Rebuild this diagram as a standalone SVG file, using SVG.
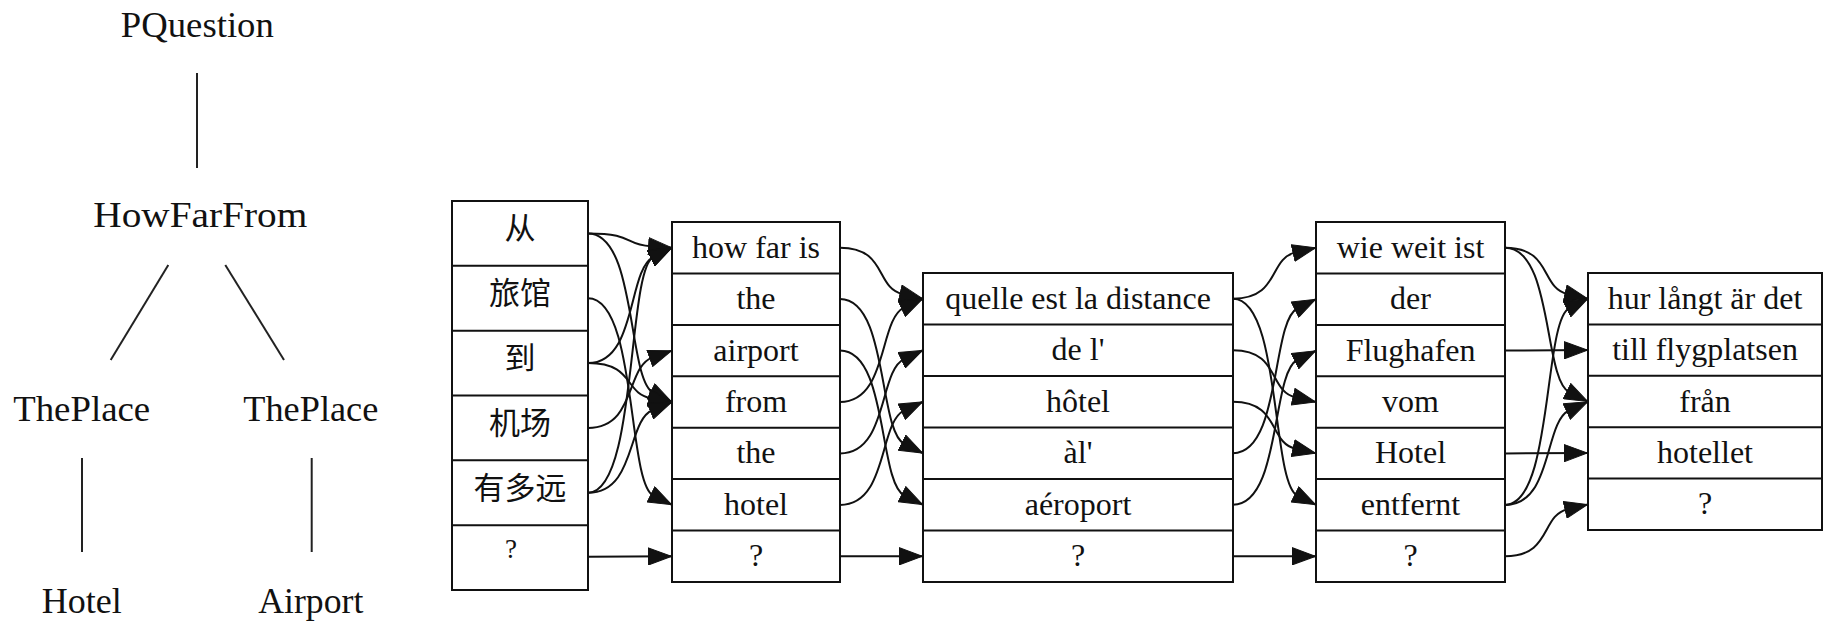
<svg xmlns="http://www.w3.org/2000/svg" width="1825" height="621" viewBox="0 0 1825 621">
  <style>
    .box { fill: #fff; stroke: #111; stroke-width: 2; }
    .div { stroke: #111; stroke-width: 2; }
    .lbl { font-family: "Liberation Serif", "Times New Roman", serif; font-size: 32px; text-anchor: middle; fill: #111; }
    .cjk { font-family: "Liberation Serif", "Noto Sans CJK SC", serif; font-size: 31px; }
    .tree { font-size: 36px; }
    .edge { fill: none; stroke: #111; stroke-width: 2; marker-end: url(#ah); }
    .branch { stroke: #222; stroke-width: 2; }
  </style>
  <defs>
    <marker id="ah" markerUnits="userSpaceOnUse" viewBox="0 0 24 18" markerWidth="24" markerHeight="18" refX="24" refY="9" orient="auto">
      <path d="M0.5,0.5 L23.5,9 L0.5,17.5 Z" fill="#111" stroke="#111" stroke-width="1"/>
    </marker>
  </defs>
  <rect width="1825" height="621" fill="#fff"/>

  <!-- abstract syntax tree -->
  <g id="t-pquestion"><text class="lbl tree" x="197.3" y="36.7" textLength="153" lengthAdjust="spacingAndGlyphs">PQuestion</text></g>
  <g id="t-howfarfrom"><text class="lbl tree" x="200.3" y="227.3" textLength="214" lengthAdjust="spacingAndGlyphs">HowFarFrom</text></g>
  <g id="t-theplace1"><text class="lbl tree" x="81.7" y="421" textLength="137" lengthAdjust="spacingAndGlyphs">ThePlace</text></g>
  <g id="t-theplace2"><text class="lbl tree" x="310.8" y="421" textLength="135" lengthAdjust="spacingAndGlyphs">ThePlace</text></g>
  <g id="t-hotel"><text class="lbl tree" x="81.7" y="613.3" textLength="80" lengthAdjust="spacingAndGlyphs">Hotel</text></g>
  <g id="t-airport"><text class="lbl tree" x="310.8" y="613.3" textLength="105" lengthAdjust="spacingAndGlyphs">Airport</text></g>

  <!-- word tables -->
  <g id="zh">
    <rect class="box" x="452" y="201" width="136" height="389"/>
    <path class="div" d="M452,265.8H588M452,330.7H588M452,395.5H588M452,460.3H588M452,525.2H588"/>
    <text class="lbl cjk" x="520" y="239.4">从</text>
    <text class="lbl cjk" x="520" y="304.3">旅馆</text>
    <text class="lbl cjk" x="520" y="369.1">到</text>
    <text class="lbl cjk" x="520" y="433.9">机场</text>
    <text class="lbl cjk" x="520" y="498.8">有多远</text>
    <text class="lbl cjk" x="511" y="557.5" style="font-size:27px">?</text>
  </g>

  <g id="en">
    <rect class="box" x="672" y="222" width="168" height="360"/>
    <path class="div" d="M672,273.4H840M672,324.9H840M672,376.3H840M672,427.7H840M672,479.1H840M672,530.6H840"/>
    <text class="lbl" x="756" y="257.7">how far is</text>
    <text class="lbl" x="756" y="309.1">the</text>
    <text class="lbl" x="756" y="360.6">airport</text>
    <text class="lbl" x="756" y="412">from</text>
    <text class="lbl" x="756" y="463.4">the</text>
    <text class="lbl" x="756" y="514.9">hotel</text>
    <text class="lbl" x="756" y="566.3">?</text>
  </g>

  <g id="fr">
    <rect class="box" x="923" y="273" width="310" height="309"/>
    <path class="div" d="M923,324.5H1233M923,376H1233M923,427.5H1233M923,479H1233M923,530.5H1233"/>
    <text class="lbl" x="1078" y="308.75">quelle est la distance</text>
    <text class="lbl" x="1078" y="360.25">de l'</text>
    <text class="lbl" x="1078" y="411.75">hôtel</text>
    <text class="lbl" x="1078" y="463.25">àl'</text>
    <text class="lbl" x="1078" y="514.75">aéroport</text>
    <text class="lbl" x="1078" y="566.25">?</text>
  </g>

  <g id="de">
    <rect class="box" x="1316" y="222" width="189" height="360"/>
    <path class="div" d="M1316,273.4H1505M1316,324.9H1505M1316,376.3H1505M1316,427.7H1505M1316,479.1H1505M1316,530.6H1505"/>
    <text class="lbl" x="1410.5" y="257.7">wie weit ist</text>
    <text class="lbl" x="1410.5" y="309.1">der</text>
    <text class="lbl" x="1410.5" y="360.6">Flughafen</text>
    <text class="lbl" x="1410.5" y="412">vom</text>
    <text class="lbl" x="1410.5" y="463.4">Hotel</text>
    <text class="lbl" x="1410.5" y="514.9">entfernt</text>
    <text class="lbl" x="1410.5" y="566.3">?</text>
  </g>

  <g id="sv">
    <rect class="box" x="1588" y="273" width="234" height="257"/>
    <path class="div" d="M1588,324.4H1822M1588,375.8H1822M1588,427.2H1822M1588,478.6H1822"/>
    <text class="lbl" x="1705" y="308.7">hur långt är det</text>
    <text class="lbl" x="1705" y="360.1">till flygplatsen</text>
    <text class="lbl" x="1705" y="411.5">från</text>
    <text class="lbl" x="1705" y="462.9">hotellet</text>
    <text class="lbl" x="1705" y="514.3">?</text>
  </g>

  <g id="connectors">
    <!-- tree branches -->
    <line class="branch" x1="197" y1="73" x2="197" y2="168"/>
    <line class="branch" x1="168.3" y1="265" x2="110.7" y2="360"/>
    <line class="branch" x1="225.3" y1="265" x2="284" y2="360"/>
    <line class="branch" x1="82" y1="458" x2="82" y2="552"/>
    <line class="branch" x1="311.7" y1="458" x2="311.7" y2="552"/>

    <!-- zh -> en -->
    <path class="edge" d="M588,233.4 C635,233.4 623.1,244.5 651,246.3 L672,247.7"/>
    <path class="edge" d="M588,233.4 C637,233.4 627.3,379.6 653.2,392.6 L672,402"/>
    <path class="edge" d="M588,298.3 C637,298.3 627.3,482.5 653.2,495.5 L672,504.9"/>
    <path class="edge" d="M588,363.1 C637,363.1 627.3,270.1 653.2,257.1 L672,247.7"/>
    <path class="edge" d="M588,363.1 C635,363.1 623.7,393.4 651.3,398.3 L672,402"/>
    <path class="edge" d="M588,427.9 C636,427.9 625.8,366.9 652.2,357.6 L672,350.6"/>
    <path class="edge" d="M588,492.8 C637,492.8 627.3,270.1 653.2,257.1 L672,247.7"/>
    <path class="edge" d="M588,492.8 C636,492.8 626.7,420.7 652.6,410 L672,402"/>
    <path class="edge" d="M588,556.8 L672,556.3"/>

    <!-- en -> fr -->
    <path class="edge" d="M840,247.7 C887,247.7 875.2,287.7 902.5,294 L923,298.75"/>
    <path class="edge" d="M840,299.1 C888,299.1 878.3,430.85 904.2,443.85 L923,453.25"/>
    <path class="edge" d="M840,350.6 C888,350.6 878.3,482.35 904.2,495.35 L923,504.75"/>
    <path class="edge" d="M840,402 C888,402 878.7,319.55 904,307.65 L923,298.75"/>
    <path class="edge" d="M840,453.4 C888,453.4 878.7,371.05 904,359.15 L923,350.25"/>
    <path class="edge" d="M840,504.9 C888,504.9 878.7,422.55 904,410.65 L923,401.75"/>
    <path class="edge" d="M840,556.3 L923,556.25"/>

    <!-- fr -> de -->
    <path class="edge" d="M1233,298.75 C1280,298.75 1268.2,258.7 1295.5,252.4 L1316,247.7"/>
    <path class="edge" d="M1233,298.75 C1281,298.75 1271.3,482.5 1297.2,495.5 L1316,504.9"/>
    <path class="edge" d="M1233,350.25 C1280,350.25 1268.2,391 1295.5,397.3 L1316,402"/>
    <path class="edge" d="M1233,401.75 C1280,401.75 1268.2,442.4 1295.5,448.7 L1316,453.4"/>
    <path class="edge" d="M1233,453.25 C1281,453.25 1271.3,321.5 1297.2,308.5 L1316,299.1"/>
    <path class="edge" d="M1233,504.75 C1281,504.75 1271.3,373 1297.2,360 L1316,350.6"/>
    <path class="edge" d="M1233,556.25 L1316,556.3"/>

    <!-- de -> sv -->
    <path class="edge" d="M1505,247.7 C1552,247.7 1540.2,287.7 1567.5,294 L1588,298.7"/>
    <path class="edge" d="M1505,247.7 C1553,247.7 1543.3,379.2 1569.2,392.2 L1588,401.6"/>
    <path class="edge" d="M1505,350.6 L1588,350.1"/>
    <path class="edge" d="M1505,453.4 L1588,453"/>
    <path class="edge" d="M1505,504.9 C1553,504.9 1543.3,321.1 1569.2,308.1 L1588,298.7"/>
    <path class="edge" d="M1505,504.9 C1553,504.9 1543.7,422.4 1569,410.5 L1588,401.6"/>
    <path class="edge" d="M1505,556.3 C1552,556.3 1540.4,515.6 1567.6,509.2 L1588,504.4"/>
  </g>
</svg>
